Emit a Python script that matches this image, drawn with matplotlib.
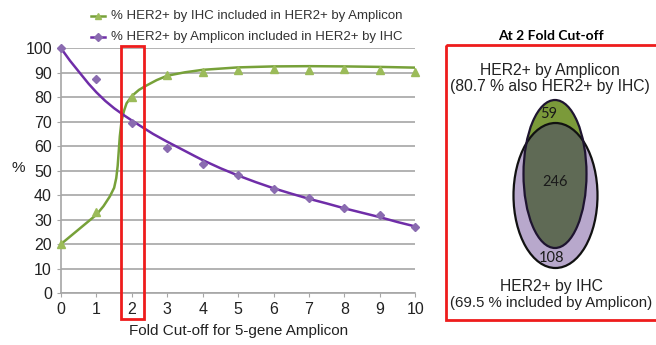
import matplotlib.pyplot as plt
import numpy as np
from matplotlib.patches import Ellipse, Rectangle

plt.rcParams['font.family'] = ['Liberation Sans', 'DejaVu Sans']

# measured points
cutoffs = [0, 1, 2, 3, 4, 5, 6, 7, 8, 9, 10]
ihc_in_amp = [20, 33, 80, 89, 90.5, 91, 91.5, 91, 91.5, 91, 90.5]
amp_in_ihc = [100, 87.5, 69.5, 59.3, 52.8, 48.1, 42.5, 38.7, 34.9, 31.9, 27.1]

# trend lines
ihc_fit_x = [0, 0.5, 1, 1.2, 1.38, 1.5, 1.56, 1.6, 1.63, 1.66, 1.71, 1.78,
             1.85, 2.0, 2.2, 2.4, 2.7, 3.0, 3.5, 4, 5, 6, 7, 8, 9, 10]
ihc_fit_y = [20, 26, 32, 35.5, 39.5, 43, 47, 52, 58, 64, 70.5, 74.5,
             77.5, 80.5, 83, 84.7, 87, 88.8, 90.2, 91.2, 92.2, 92.6, 92.7,
             92.6, 92.4, 92.1]
amp_fit_x = [0, 0.25, 0.5, 0.78, 1.0, 1.25, 1.5, 1.76, 2.0, 2.27, 2.6, 3,
             3.4, 3.77, 4, 4.5, 5, 5.5, 6, 6.5, 7, 7.5, 8, 8.5, 9, 9.5, 10]
amp_fit_y = [100, 95, 90.5, 85.5, 82, 78.5, 75.5, 72.8, 70.5, 68, 65, 61.8,
             58.8, 56, 54.3, 51, 48, 45.3, 42.8, 40.6, 38.5, 36.6, 34.6,
             32.8, 31, 29, 27.2]

# venn counts at 2 fold cut-off
venn_labels = ["59", "246", "108"]

green_line = "#77a139"
green_mark = "#9bbb59"
purple_line = "#6f2da8"
purple_mark = "#8a6bb0"

fig = plt.figure(figsize=(6.56, 3.45), dpi=100)
ax = fig.add_axes([0.093, 0.1507, 0.54, 0.7093])

ax.plot(ihc_fit_x, ihc_fit_y, color=green_line, lw=1.8, zorder=3)
ax.plot(amp_fit_x, amp_fit_y, color=purple_line, lw=1.8, zorder=3)
ax.plot(cutoffs, ihc_in_amp, ls="none", marker="^", ms=6,
        color=green_mark, clip_on=False, zorder=4)
ax.plot(cutoffs, amp_in_ihc, ls="none", marker="D", ms=4.5,
        color=purple_mark, clip_on=False, zorder=4)

ax.set_xlim(0, 10)
ax.set_ylim(0, 100)
ax.set_xticks(range(0, 11))
ax.set_yticks(range(0, 101, 10))
ax.yaxis.grid(True, color="#a6a6a6", lw=1.2)
ax.set_axisbelow(True)
for s in ["top", "right"]:
    ax.spines[s].set_visible(False)
for s in ["left", "bottom"]:
    ax.spines[s].set_color("#a6a6a6")
    ax.spines[s].set_linewidth(1.2)
ax.tick_params(axis="both", colors="#a6a6a6", labelcolor="#222222",
               labelsize=11.5, length=3)
ax.set_xlabel("Fold Cut-off for 5-gene Amplicon", fontsize=11,
              color="#222222", labelpad=5)
ax.text(-1.2, 51, "%", fontsize=11, ha="center", va="center",
        color="#222222")

# legend
lg_x = [0.85, 1.25]
ax.plot(lg_x, [113, 113], color=green_line, lw=1.8, clip_on=False)
ax.plot(1.05, 113, marker="^", ms=5, color=green_mark, clip_on=False)
ax.plot(lg_x, [104.5, 104.5], color=purple_line, lw=1.8, clip_on=False)
ax.plot(1.05, 104.5, marker="D", ms=4, color=purple_mark, clip_on=False)
ax.text(1.4, 113, "% HER2+ by IHC included in HER2+ by Amplicon",
        fontsize=9.5, va="center", color="#333333")
ax.text(1.4, 104.5, "% HER2+ by Amplicon included in HER2+ by IHC",
        fontsize=9.5, va="center", color="#333333")

# red box at 2 fold
ax.add_patch(Rectangle((1.69, -10.6), 0.65, 111.6, fill=False,
                       edgecolor="#ee1c1c", lw=2, clip_on=False, zorder=5))

# right panel in pixel coordinates
ov = fig.add_axes([0, 0, 1, 1])
ov.set_xlim(0, 656)
ov.set_ylim(345, 0)
ov.axis("off")

ov.add_patch(Rectangle((446, 45), 220, 275, fill=False,
                       edgecolor="#ee1c1c", lw=2, clip_on=False))
ov.text(551, 36, "At 2 Fold Cut-off", fontsize=10, fontweight="bold",
        family=["Lato", "DejaVu Sans"], ha="center", va="center")
ov.text(550, 70, "HER2+ by Amplicon", fontsize=11.3, ha="center",
        va="center", color="#222222")
ov.text(550, 86, "(80.7 % also HER2+ by IHC)", fontsize=11.3,
        ha="center", va="center", color="#222222")
ov.text(551, 287, "HER2+ by IHC", fontsize=11.3, ha="center",
        va="center", color="#222222")
ov.text(551, 303, "(69.5 % included by Amplicon)", fontsize=10.8,
        ha="center", va="center", color="#222222")

purple_e = Ellipse((555.5, 195.5), 84, 145, facecolor="#b8a8cc",
                   edgecolor="none")
green_e = Ellipse((555, 174), 63, 148, facecolor="#7b9a3a",
                  edgecolor="none")
inter_e = Ellipse((555, 174), 63, 148, facecolor="#5f6a55",
                  edgecolor="none")
ov.add_patch(purple_e)
ov.add_patch(green_e)
ov.add_patch(inter_e)
inter_e.set_clip_path(purple_e)
ov.add_patch(Ellipse((555.5, 195.5), 84, 145, fill=False,
                     edgecolor="#111111", lw=1.6))
ov.add_patch(Ellipse((555, 174), 63, 148, fill=False,
                     edgecolor="#1e1430", lw=1.6))

venn_pos = [(549, 114), (555, 182), (551, 258)]
for lab, (px, py) in zip(venn_labels, venn_pos):
    ov.text(px, py, lab, fontsize=10.5, ha="center", va="center",
            family=["Lato", "DejaVu Sans"], color="#1a1a1a")

fig.savefig("out.png", dpi=100)
